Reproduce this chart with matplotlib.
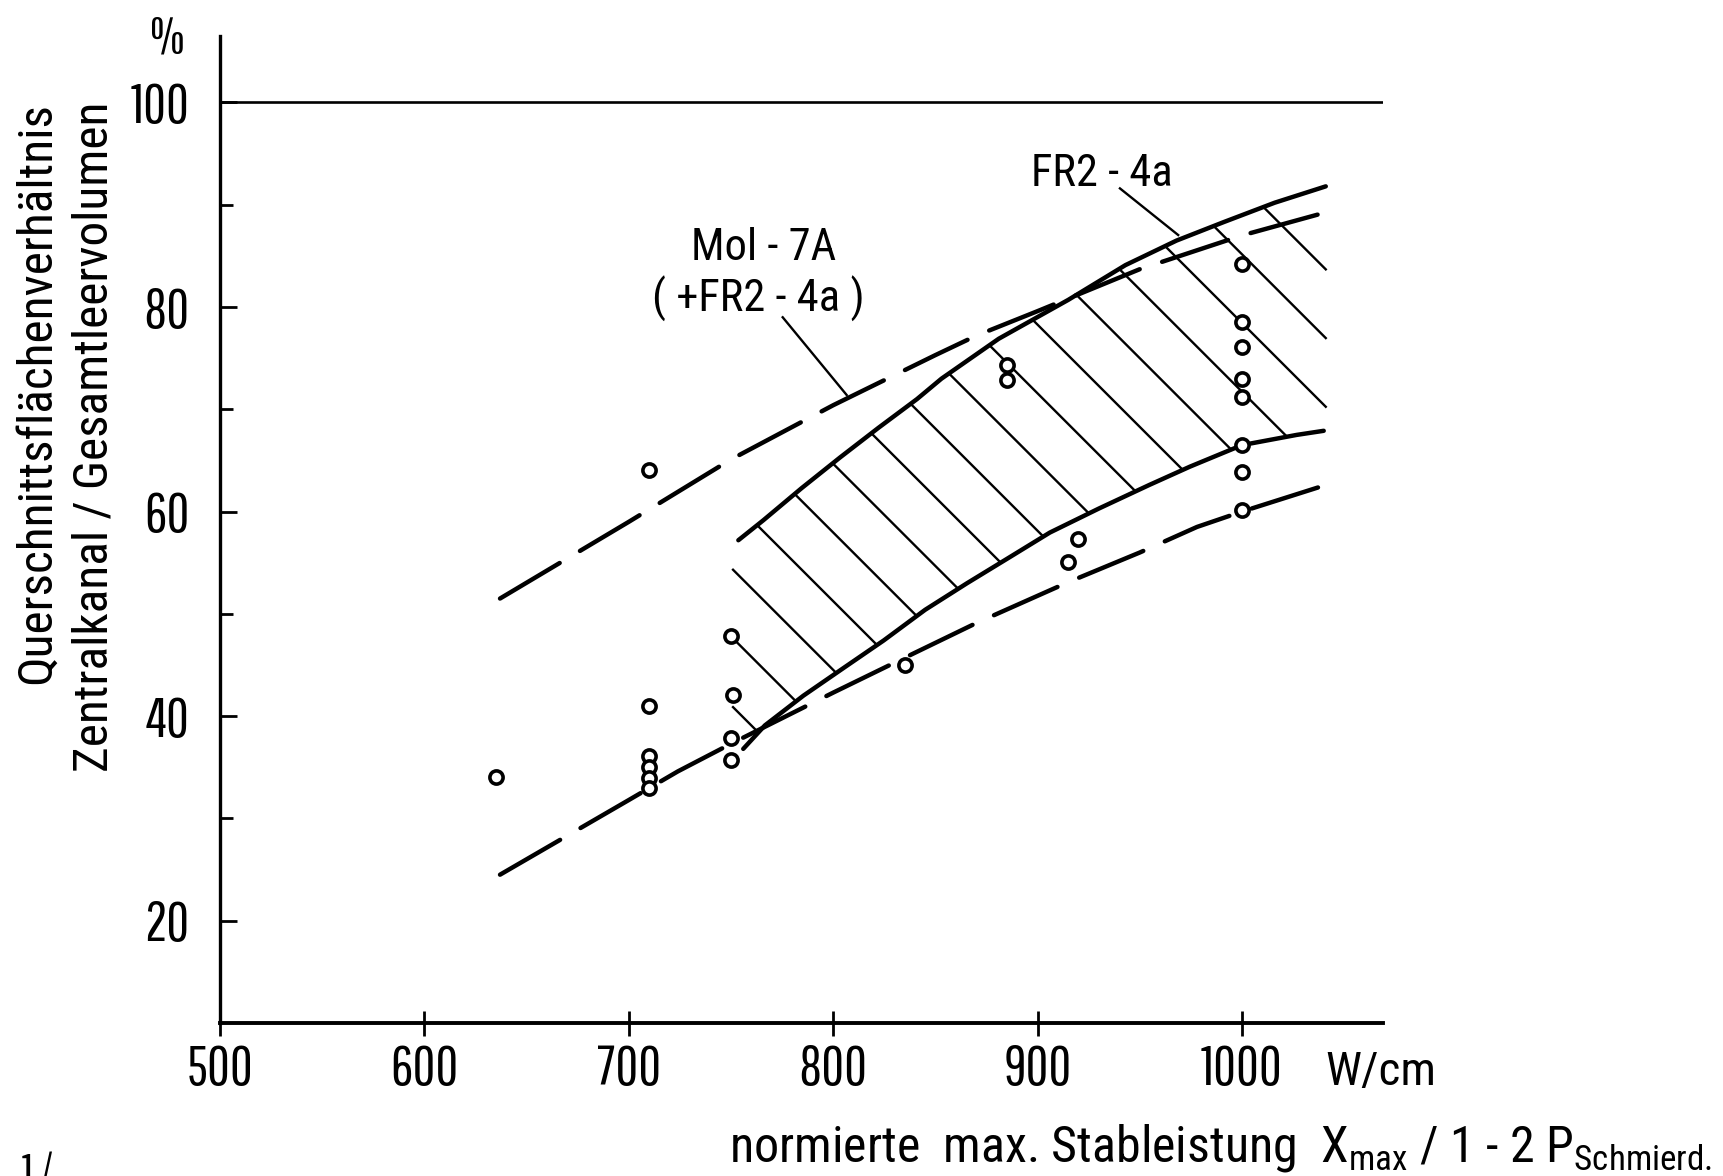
import numpy as np
import matplotlib
matplotlib.use("Agg")
import matplotlib.pyplot as plt

DIGIT_FONT = ["Pathway Gothic One", "Roboto Condensed", "DejaVu Sans"]
WORD_FONT = ["Roboto Condensed", "Pathway Gothic One", "DejaVu Sans"]
plt.rcParams["font.family"] = DIGIT_FONT
plt.rcParams["mathtext.fontset"] = "custom"
plt.rcParams["mathtext.rm"] = "Roboto Condensed"
plt.rcParams["mathtext.it"] = "Roboto Condensed"
plt.rcParams["mathtext.bf"] = "Roboto Condensed"
plt.rcParams["mathtext.sf"] = "Roboto Condensed"
plt.rcParams["lines.scale_dashes"] = False

# ---------------- data ----------------
pts_x = [635, 710, 710, 710, 710, 710, 710, 750, 751, 750, 750, 835, 885, 885, 915, 920,
         1000, 1000, 1000, 1000, 1000, 1000, 1000, 1000]
pts_y = [34.1, 64.1, 41.0, 36.1, 35.0, 34.0, 33.0, 47.8, 42.1, 37.9, 35.7, 45.0, 74.3, 72.9,
         55.1, 57.3, 84.2, 78.5, 76.1, 73.0, 71.2, 66.5, 63.9, 60.2]

# Mol-7A (+FR2-4a) band, dashed
mol_upper_x = [637, 700, 750, 800, 850, 870, 900, 950, 1000, 1040]
mol_upper_y = [51.5, 59.0, 65.1, 70.4, 75.3, 77.2, 79.6, 83.7, 87.0, 89.2]
mol_lower_x = [637, 700, 724, 750, 800, 839, 870, 915, 950, 978, 1000, 1041]
mol_lower_y = [24.5, 31.8, 34.6, 37.3, 42.3, 46.1, 49.1, 53.1, 56.0, 58.5, 60.0, 62.6]

# FR2-4a band, solid, hatched
fr2_upper_x = [753.6, 765.8, 784.6, 803.4, 822.2, 841, 853, 881, 915, 943, 968, 991, 1016, 1041]
fr2_upper_y = [57.2, 59.15, 62.3, 65.3, 68.2, 71.0, 73.0, 76.9, 80.7, 84.1, 86.5, 88.3, 90.2, 91.8]
fr2_lower_x = [756, 766.6, 785.4, 805, 824.7, 845, 865.5, 886, 906, 930, 954.6, 974.6, 1000,
               1026.8, 1040]
fr2_lower_y = [36.8, 39.1, 42.0, 44.7, 47.4, 50.4, 53.0, 55.5, 57.95, 60.3, 62.6, 64.4, 66.5,
               67.5, 67.9]

x_ticks = [500, 600, 700, 800, 900, 1000]
x_ticklabels = ["500", "600", "700", "800", "900", "1000"]
y_ticks = [20, 40, 60, 80, 100]
y_ticklabels = ["20", "40", "60", "80", "100"]
y_minor = [30, 50, 70, 90]

ylabel_1 = "Querschnittsflächenverhältnis"
ylabel_2 = "Zentralkanal / Gesamtleervolumen"
xlabel = (r"normierte  max. Stableistung  $\mathrm{X}_{\mathrm{max}}$ / 1 - 2 "
          r"$\mathrm{P}_{\mathrm{Schmierd.}}$")
label_mol_1 = "Mol - 7A"
label_mol_2 = "( +FR2 - 4a )"
label_fr2 = "FR2 - 4a"

# ---------------- figure ----------------
W, H = 1724, 1176
fig = plt.figure(figsize=(W / 100, H / 100), dpi=100)
ax = fig.add_axes([220 / W, 1 - 1023 / H, (1383 - 220) / W, (1023 - 36) / H])
ax.set_xlim(500, 1069)
ax.set_ylim(10, 106.5)

for s in ("top", "right"):
    ax.spines[s].set_visible(False)
ax.spines["left"].set_linewidth(2.4)
ax.spines["bottom"].set_linewidth(2.8)

TICKFS = 40
ax.set_xticks(x_ticks)
ax.set_xticklabels(x_ticklabels)
ax.set_yticks(y_ticks)
ax.set_yticklabels(y_ticklabels)
ax.set_yticks(y_minor, minor=True)
ax.tick_params(axis="x", which="major", direction="inout", length=18, width=2.0,
               labelsize=TICKFS, pad=6)
ax.tick_params(axis="y", which="major", direction="in", length=12.5, width=2.0,
               labelsize=TICKFS, pad=22)
ax.tick_params(axis="y", which="minor", direction="in", length=9.5, width=2.0)
ax.tick_params(axis="x", which="minor", length=0)

# horizontal 100 % line
ax.axhline(100, color="black", lw=1.9, zorder=2)

# dashed Mol-7A band
dash = (0, (50, 17))
for xs, ys in ((mol_upper_x, mol_upper_y), (mol_lower_x, mol_lower_y)):
    ax.plot(xs, ys, color="black", lw=3.2, linestyle=dash, dash_capstyle="round",
            dash_joinstyle="round", zorder=3)

# solid FR2-4a band
for xs, ys in ((fr2_upper_x, fr2_upper_y), (fr2_lower_x, fr2_lower_y)):
    ax.plot(xs, ys, color="black", lw=3.2, solid_capstyle="round",
            solid_joinstyle="round", zorder=3)

# hatch lines (45 degrees on screen) inside FR2-4a band
hatch_left, hatch_right = 751.0, 1041.0
hatch_anchor = (750.0, 47.8)
hatch_spacing_px = 68.7
T = ax.transData
inv = T.inverted()
a_px = T.transform(hatch_anchor)
c0 = a_px[0] + a_px[1]
xl_px = T.transform((hatch_left, 50))[0]
xr_px = T.transform((hatch_right, 50))[0]
Xs = np.linspace(xl_px, xr_px, 3000)
for k in range(-1, 15):
    c = c0 + k * hatch_spacing_px
    Ys = c - Xs
    d = inv.transform(np.column_stack([Xs, Ys]))
    xd, yd = d[:, 0], d[:, 1]
    up = np.interp(xd, fr2_upper_x, fr2_upper_y)
    lo = np.interp(xd, fr2_lower_x, fr2_lower_y)
    m = (yd <= up) & (yd >= lo)
    if m.sum() < 2:
        continue
    ax.plot(xd[m], yd[m], color="black", lw=1.7, zorder=2)

# leader lines
ax.plot([775.3, 806.6], [79.0, 71.4], color="black", lw=1.7, zorder=2)
ax.plot([940.3, 968.8], [91.6, 87.04], color="black", lw=1.7, zorder=2)

# points
ax.plot(pts_x, pts_y, linestyle="none", marker="o", ms=9.5, mew=2.6,
        mfc="white", mec="black", zorder=5)

# labels inside
LABFS = 32
ax.text(766, 85.8, label_mol_1, fontsize=LABFS, family=WORD_FONT, ha="center", va="center")
ax.text(763.5, 80.8, label_mol_2, fontsize=LABFS, family=WORD_FONT, ha="center", va="center")
ax.text(931.3, 93.0, label_fr2, fontsize=LABFS, family=WORD_FONT, ha="center", va="center")

# axis texts
fig.text(167 / W, 1 - 38 / H, "%", fontsize=36, ha="center", va="center")
fig.text(1325 / W, 1 - 1072 / H, "W/cm", fontsize=34, family=WORD_FONT,
         ha="left", va="center")
fig.text(1712 / W, 14 / H, xlabel, fontsize=36, family=WORD_FONT, ha="right", va="baseline")
fig.text(37 / W, 1 - 102 / H, ylabel_1, fontsize=35.5, family=WORD_FONT, rotation=90,
         ha="center", va="top")
fig.text(95 / W, 1 - 102 / H, ylabel_2, fontsize=35.5, family=WORD_FONT, rotation=90,
         ha="center", va="top")
fig.text(22 / W, 1 - 1152 / H, "1 /", fontsize=34, ha="left", va="top")

fig.savefig("out.png", dpi=100)
